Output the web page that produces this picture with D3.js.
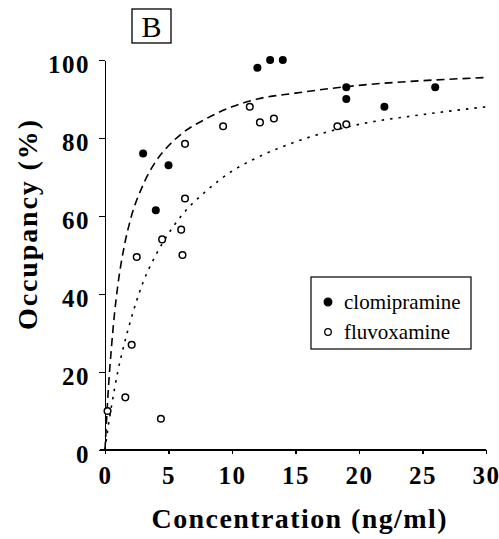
<!DOCTYPE html>
<head>
<meta charset="utf-8">
<title>Occupancy vs Concentration - B</title>
<script type="text/javascript" src="https://d3js.org/d3.v7.min.js"></script>
<style>
body { margin: 0; background: #ffffff; }

.axis line, .axis path {
  stroke: #000000;
  shape-rendering: crispEdges;
}
.axis text {
  font-family: "Liberation Serif", "Times New Roman", serif;
  font-weight: bold;
  font-size: 25px;
  letter-spacing: 1.5px;
  fill: #000000;
}
.curve {
  fill: none;
  stroke: #000000;
  stroke-width: 1.6;
}
.axis_title {
  font-family: "Liberation Serif", "Times New Roman", serif;
  font-weight: bold;
  font-size: 28px;
  fill: #000000;
}
.legend_text {
  font-family: "Liberation Serif", "Times New Roman", serif;
  font-size: 21px;
  fill: #000000;
}
</style>
</head>
<body>
<div id="container"></div>
<script>

//------------------------DATA-------------------------//

// measured points
const clomiConc = [3, 4, 5, 12, 13, 14, 19, 19, 22, 26];
const clomiOcc  = [76, 61.5, 73, 98, 100, 100, 93, 90, 88, 93];

const fluvoConc = [0.2, 1.6, 2.1, 2.5, 4.4, 4.5, 6.0, 6.1, 6.3, 6.3, 9.3, 11.4, 12.2, 13.3, 18.3, 19];
const fluvoOcc  = [10, 13.5, 27, 49.5, 8, 54, 56.5, 50, 64.5, 78.5, 83, 88, 84, 85, 83, 83.5];

// fitted curves
const clomiCurveX = [0, 0.25, 0.5, 0.75, 1, 1.5, 2, 3, 4, 5, 6, 8, 10, 12, 15, 20, 25, 30];
const clomiCurveY = [0, 15, 26, 35, 42, 52, 59, 68, 74, 78, 81, 85, 88, 90, 91.5, 93.5, 94.7, 95.5];

const fluvoCurveX = [0, 0.25, 0.5, 1, 1.5, 2, 3, 4, 5, 6, 8, 10, 12, 15, 20, 25, 30];
const fluvoCurveY = [0, 6, 11, 20, 27, 33, 43, 50, 55.5, 60, 66.5, 71.5, 75, 79, 83.5, 86, 88];

const xTicks = [0, 5, 10, 15, 20, 25, 30];
const yTicks = [0, 20, 40, 60, 80, 100];

const legendLabels = ["clomipramine", "fluvoxamine"];

//------------------------SVG-------------------------//

var width = 499, height = 539;

var svg = d3.select("div#container")
  .append("svg")
    .attr("width", width)
    .attr("height", height);

//----------------------------SCALES-----------------------------//

const xScale = d3.scaleLinear().domain([0, 30]).range([105, 486]);
const yScale = d3.scaleLinear().domain([0, 100]).range([450, 60]);

//-----------------------------AXES------------------------------//

const xaxis = d3.axisBottom(xScale)
    .tickValues(xTicks)
    .tickSize(4)
    .tickSizeOuter(0)
    .tickPadding(12);

const yaxis = d3.axisLeft(yScale)
    .tickValues(yTicks)
    .tickSize(6)
    .tickSizeOuter(0)
    .tickPadding(9);

svg.append("g")
    .attr("class", "axis")
    .attr("transform", "translate(0,450)")
    .call(xaxis)
    .call(g => g.select(".domain").attr("stroke-width", 2.5).attr("d", "M100,0H486"))
    .call(g => g.selectAll(".tick line").attr("stroke-width", 1.2));

svg.append("g")
    .attr("class", "axis")
    .attr("transform", "translate(105,0)")
    .call(yaxis)
    .call(g => g.select(".domain").attr("stroke-width", 1.8))
    .call(g => g.selectAll(".tick line").attr("stroke-width", 1.5))
    .call(g => g.selectAll(".tick text").attr("dy", "0.5em"));

//----------------------------CURVES------------------------------//

const line = d3.line()
    .x(function(d) { return xScale(d[0]); })
    .y(function(d) { return yScale(d[1]); })
    .curve(d3.curveMonotoneX);

svg.append("path")
    .attr("class", "curve")
    .attr("stroke-dasharray", "8,5")
    .attr("d", line(d3.zip(clomiCurveX, clomiCurveY)));

svg.append("path")
    .attr("class", "curve")
    .attr("stroke-dasharray", "2.5,6")
    .attr("d", line(d3.zip(fluvoCurveX, fluvoCurveY)));

//---------------------------POINTS-----------------------------//

svg.selectAll(".fluvo")
    .data(d3.zip(fluvoConc, fluvoOcc))
    .enter()
    .append("circle")
    .attr("class", "fluvo")
    .attr("cx", function(d) { return xScale(d[0]); })
    .attr("cy", function(d) { return yScale(d[1]); })
    .attr("r", 3.3)
    .attr("fill", "#ffffff")
    .attr("stroke", "#000000")
    .attr("stroke-width", 1.5);

svg.selectAll(".clomi")
    .data(d3.zip(clomiConc, clomiOcc))
    .enter()
    .append("circle")
    .attr("class", "clomi")
    .attr("cx", function(d) { return xScale(d[0]); })
    .attr("cy", function(d) { return yScale(d[1]); })
    .attr("r", 4)
    .attr("fill", "#000000");

//---------------------------LEGEND-----------------------------//

const legend = svg.append("g").attr("transform", "translate(311,277)");

legend.append("rect")
    .attr("width", 160)
    .attr("height", 72)
    .attr("fill", "#ffffff")
    .attr("stroke", "#000000")
    .attr("stroke-width", 1.2);

legendLabels.forEach(function(lab, i) {
    legend.append("circle")
        .attr("cx", 17)
        .attr("cy", 25 + i * 30)
        .attr("r", i === 0 ? 3.8 : 3.3)
        .attr("fill", i === 0 ? "#000000" : "#ffffff")
        .attr("stroke", "#000000")
        .attr("stroke-width", 1.3);
    legend.append("text")
        .attr("class", "legend_text")
        .attr("x", 33)
        .attr("y", 25 + i * 30)
        .attr("dy", "0.33em")
        .text(lab);
});

//---------------------------TITLES-----------------------------//

// panel letter
svg.append("rect")
    .attr("x", 132)
    .attr("y", 9)
    .attr("width", 39)
    .attr("height", 34)
    .attr("fill", "none")
    .attr("stroke", "#000000")
    .attr("stroke-width", 1.3);

svg.append("text")
    .attr("x", 151.5)
    .attr("y", 37)
    .attr("text-anchor", "middle")
    .style("font-family", "Liberation Serif, serif")
    .style("font-size", "30px")
    .text("B");

svg.append("text")
    .attr("class", "axis_title")
    .attr("x", 299)
    .attr("y", 528)
    .attr("text-anchor", "middle")
    .attr("textLength", 295)
    .attr("lengthAdjust", "spacing")
    .text("Concentration (ng/ml)");

svg.append("text")
    .attr("class", "axis_title")
    .attr("transform", "translate(37,225) rotate(-90)")
    .attr("text-anchor", "middle")
    .attr("textLength", 210)
    .attr("lengthAdjust", "spacing")
    .text("Occupancy (%)");

</script>
</body>
